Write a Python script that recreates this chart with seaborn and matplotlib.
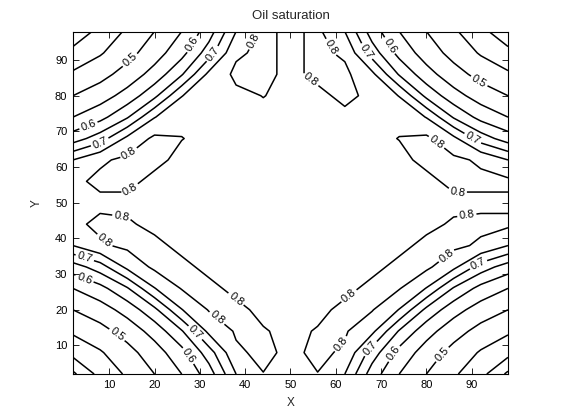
import matplotlib
matplotlib.use("Agg")
import matplotlib.pyplot as plt
import seaborn as sns
import numpy as np

# grid coordinates (X, Y)
x_coords = [2, 8, 14, 20, 26, 32, 38, 44, 50, 56, 62, 68, 74, 80, 86, 92, 98]
y_coords = [2, 8, 14, 20, 26, 32, 38, 44, 50, 56, 62, 68, 74, 80, 86, 92, 98]

# oil saturation, rows from Y=2 (bottom) to Y=98 (top)
sat_y02 = [0.34, 0.417, 0.457, 0.50, 0.55, 0.625, 0.75, 0.799, 0.79, 0.799, 0.75, 0.625, 0.55, 0.50, 0.457, 0.417, 0.34]
sat_y08 = [0.417, 0.445, 0.483, 0.527, 0.583, 0.676, 0.793, 0.81, 0.79, 0.81, 0.793, 0.676, 0.583, 0.527, 0.483, 0.445, 0.417]
sat_y14 = [0.457, 0.483, 0.520, 0.569, 0.645, 0.763, 0.805, 0.803, 0.79, 0.803, 0.805, 0.763, 0.645, 0.569, 0.520, 0.483, 0.457]
sat_y20 = [0.50, 0.527, 0.569, 0.637, 0.748, 0.803, 0.81, 0.79, 0.79, 0.79, 0.81, 0.803, 0.748, 0.637, 0.569, 0.527, 0.50]
sat_y26 = [0.55, 0.583, 0.645, 0.748, 0.803, 0.81, 0.79, 0.79, 0.79, 0.79, 0.79, 0.81, 0.803, 0.748, 0.645, 0.583, 0.55]
sat_y32 = [0.625, 0.676, 0.763, 0.81, 0.81, 0.79, 0.79, 0.79, 0.79, 0.79, 0.79, 0.79, 0.81, 0.81, 0.763, 0.676, 0.625]
sat_y38 = [0.75, 0.793, 0.81, 0.81, 0.79, 0.79, 0.79, 0.79, 0.79, 0.79, 0.79, 0.79, 0.79, 0.81, 0.81, 0.793, 0.75]
sat_y44 = [0.79, 0.81, 0.805, 0.79, 0.79, 0.79, 0.79, 0.79, 0.79, 0.79, 0.79, 0.79, 0.79, 0.79, 0.805, 0.81, 0.81]
sat_y50 = [0.79, 0.79, 0.79, 0.79, 0.79, 0.79, 0.79, 0.79, 0.79, 0.79, 0.79, 0.79, 0.79, 0.79, 0.79, 0.79, 0.79]
sat_y56 = [0.79, 0.81, 0.81, 0.79, 0.79, 0.79, 0.79, 0.79, 0.79, 0.79, 0.79, 0.79, 0.79, 0.79, 0.81, 0.81, 0.81]
sat_y62 = [0.75, 0.793, 0.81, 0.81, 0.79, 0.79, 0.79, 0.79, 0.79, 0.79, 0.79, 0.79, 0.79, 0.81, 0.81, 0.793, 0.75]
sat_y68 = [0.625, 0.676, 0.763, 0.81, 0.801, 0.79, 0.79, 0.79, 0.79, 0.79, 0.79, 0.79, 0.801, 0.81, 0.763, 0.676, 0.625]
sat_y74 = [0.55, 0.583, 0.645, 0.748, 0.79, 0.79, 0.79, 0.79, 0.79, 0.79, 0.79, 0.79, 0.79, 0.748, 0.645, 0.583, 0.55]
sat_y80 = [0.50, 0.527, 0.569, 0.637, 0.748, 0.79, 0.79, 0.801, 0.79, 0.79, 0.81, 0.79, 0.748, 0.637, 0.569, 0.527, 0.50]
sat_y86 = [0.457, 0.483, 0.520, 0.569, 0.645, 0.763, 0.81, 0.81, 0.79, 0.81, 0.81, 0.763, 0.645, 0.569, 0.520, 0.483, 0.457]
sat_y92 = [0.417, 0.445, 0.483, 0.527, 0.583, 0.676, 0.793, 0.81, 0.79, 0.81, 0.793, 0.676, 0.583, 0.527, 0.483, 0.445, 0.417]
sat_y98 = [0.36, 0.417, 0.457, 0.50, 0.55, 0.625, 0.75, 0.81, 0.79, 0.81, 0.75, 0.625, 0.55, 0.50, 0.457, 0.417, 0.36]

plain_levels = [0.35, 0.40, 0.45, 0.55, 0.65, 0.75]
labelled_levels = [0.5, 0.6, 0.7, 0.8]
tick_values = [10, 20, 30, 40, 50, 60, 70, 80, 90]

label_pos = {
    0.5: [(14.6, 90.0), (91.8, 84.4), (10.8, 11.5), (83.7, 7.3)],
    0.6: [(30.2, 93.0), (5.8, 70.4), (71.3, 93.6), (4.6, 28.9), (28.5, 7.9), (72.6, 7.9)],
    0.7: [(33.8, 90.6), (8.4, 65.6), (66.5, 92.2), (89.6, 66.7), (4.6, 34.5),
          (29.6, 14.3), (68.0, 8.7), (91.8, 32.0)],
    0.8: [(41.5, 95.6), (14.6, 63.4), (13.5, 55.5), (12.4, 42.4), (9.1, 39.6),
          (37.3, 21.9), (33.8, 17.7), (63.1, 23.6), (60.9, 10.7), (84.6, 34.8),
          (89.2, 43.8), (86.8, 55.5), (81.2, 65.3), (54.8, 85.0), (59.8, 94.2)],
}

sns.set_theme(style="white")
plt.rcParams['font.family'] = ['Liberation Sans', 'DejaVu Sans']

Z = np.array([sat_y02, sat_y08, sat_y14, sat_y20, sat_y26, sat_y32, sat_y38, sat_y44, sat_y50,
              sat_y56, sat_y62, sat_y68, sat_y74, sat_y80, sat_y86, sat_y92, sat_y98])

fig = plt.figure(figsize=(5.61, 4.20), dpi=100)
ax = fig.add_axes([0.130, 0.1095, 0.7755, 0.8155])
ax.contour(x_coords, y_coords, Z, levels=plain_levels, colors='black', linewidths=1.1)
for lev in labelled_levels:
    cs = ax.contour(x_coords, y_coords, Z, levels=[lev], colors='black', linewidths=1.1)
    ax.clabel(cs, manual=label_pos[lev], fmt='%.1f', fontsize=8,
              inline=True, inline_spacing=2, colors='black')

ax.set_xlim(2, 98)
ax.set_ylim(2, 98)
ax.set_xticks(tick_values)
ax.set_yticks(tick_values)
ax.tick_params(axis='both', which='both', direction='in', length=4, width=0.6,
               top=True, right=True, bottom=True, left=True,
               labelsize=8, colors='black', pad=4)
for sp in ax.spines.values():
    sp.set_visible(True)
    sp.set_color('black')
    sp.set_linewidth(0.8)
ax.set_xlabel('X', fontsize=8.5, labelpad=5)
ax.set_ylabel('Y', fontsize=8.5, labelpad=9)
ax.set_title('Oil saturation', fontsize=9.5, pad=9)
fig.savefig('out.png', dpi=100, facecolor='white')
